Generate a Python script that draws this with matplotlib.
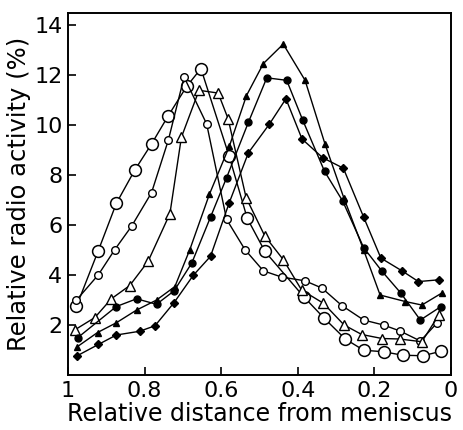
import numpy as np
import matplotlib
matplotlib.use('Agg')
import matplotlib.pyplot as plt

# large open circles
xa = [0.978, 0.921, 0.874, 0.826, 0.782, 0.738, 0.690, 0.653, 0.579, 0.532, 0.486, 0.385, 0.331, 0.276, 0.228, 0.176, 0.126, 0.073, 0.026]
ya = [2.75, 4.98, 6.87, 8.20, 9.25, 10.39, 11.56, 12.27, 8.75, 6.27, 4.95, 3.14, 2.27, 1.44, 0.99, 0.93, 0.79, 0.77, 0.95]
# small open circles
xb = [0.978, 0.921, 0.878, 0.834, 0.782, 0.738, 0.697, 0.638, 0.586, 0.538, 0.490, 0.442, 0.381, 0.337, 0.285, 0.228, 0.176, 0.133, 0.080, 0.037]
yb = [3.0, 4.01, 5.02, 5.96, 7.30, 9.41, 11.93, 10.05, 6.23, 5.02, 4.17, 3.92, 3.77, 3.48, 2.78, 2.20, 2.00, 1.76, 1.36, 2.07]
# open triangles
xc = [0.983, 0.930, 0.887, 0.839, 0.791, 0.734, 0.704, 0.658, 0.608, 0.582, 0.535, 0.486, 0.438, 0.390, 0.333, 0.279, 0.233, 0.180, 0.134, 0.076, 0.032]
yc = [1.80, 2.30, 3.05, 3.58, 4.55, 6.46, 9.52, 11.40, 11.29, 10.26, 7.10, 5.56, 4.62, 3.40, 2.87, 2.00, 1.62, 1.46, 1.44, 1.33, 2.40]
# filled circles
xd = [0.975, 0.874, 0.821, 0.769, 0.723, 0.677, 0.628, 0.586, 0.529, 0.481, 0.429, 0.387, 0.330, 0.283, 0.228, 0.180, 0.131, 0.080, 0.026]
yd = [1.49, 2.74, 3.05, 2.83, 3.37, 4.48, 6.32, 7.90, 10.12, 11.90, 11.80, 10.20, 8.15, 6.97, 5.10, 4.15, 3.28, 2.20, 2.74]
# filled triangles
xe = [0.976, 0.923, 0.874, 0.821, 0.769, 0.721, 0.682, 0.631, 0.579, 0.534, 0.490, 0.438, 0.381, 0.329, 0.280, 0.228, 0.185, 0.119, 0.076, 0.024]
ye = [1.13, 1.70, 2.09, 2.60, 3.00, 3.54, 5.02, 7.23, 9.15, 11.19, 12.47, 13.25, 11.80, 9.25, 7.10, 5.00, 3.20, 2.94, 2.80, 3.28]
# filled diamonds
xf = [0.976, 0.921, 0.874, 0.813, 0.773, 0.723, 0.673, 0.628, 0.579, 0.529, 0.474, 0.431, 0.389, 0.335, 0.281, 0.228, 0.183, 0.128, 0.085, 0.032]
yf = [0.77, 1.22, 1.60, 1.75, 1.97, 2.90, 3.99, 4.75, 6.90, 8.90, 10.05, 11.06, 9.45, 8.70, 8.28, 6.32, 4.68, 4.17, 3.74, 3.81]

fig = plt.figure(figsize=(4.63, 4.30), dpi=100)
ax = fig.add_axes([0.147, 0.128, 0.827, 0.842])

kw = dict(color='k', lw=1.0)
ax.plot(xa, ya, marker='o', ms=8.5, mfc='white', mec='k', mew=1.1, **kw)
ax.plot(xb, yb, marker='o', ms=5.5, mfc='white', mec='k', mew=1.0, **kw)
ax.plot(xc, yc, marker='^', ms=7.5, mfc='white', mec='k', mew=1.0, **kw)
ax.plot(xd, yd, marker='o', ms=5, mfc='k', mec='k', **kw)
ax.plot(xe, ye, marker='^', ms=5, mfc='k', mec='k', **kw)
ax.plot(xf, yf, marker='D', ms=4.2, mfc='k', mec='k', **kw)

ax.set_xlim(1, 0)
ax.set_ylim(0, 14.5)
ax.set_xticks([1, 0.8, 0.6, 0.4, 0.2, 0])
ax.set_xticklabels(['1', '0.8', '0.6', '0.4', '0.2', '0'])
ax.set_yticks([2, 4, 6, 8, 10, 12, 14])
ax.tick_params(direction='in', length=6, width=1.2, labelsize=16, pad=4)
for s in ax.spines.values():
    s.set_linewidth(1.4)

ax.set_xlabel('Relative distance from meniscus', fontsize=17, labelpad=1)
ax.set_ylabel('Relative radio activity (%)', fontsize=17.5, labelpad=2)

plt.savefig('out.png', dpi=100)
